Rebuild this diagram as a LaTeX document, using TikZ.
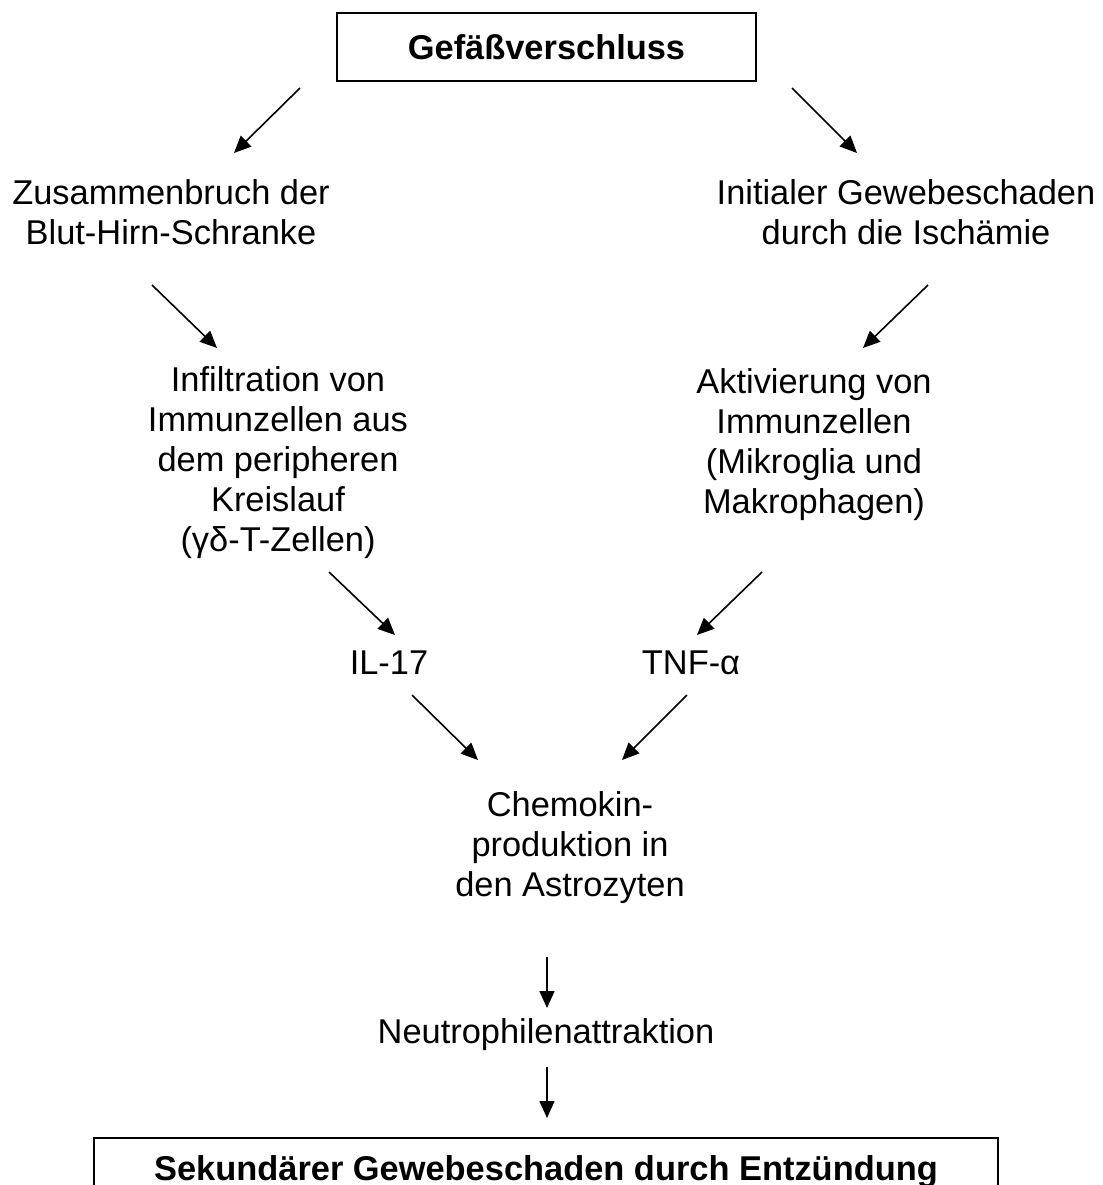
\documentclass[tikz,border=0pt]{standalone}
\usepackage{fontspec}
\setmainfont{Liberation Sans}
\usetikzlibrary{arrows.meta}

\begin{document}
\begin{tikzpicture}[x=0.5pt, y=-0.5pt,
        every node/.style={inner sep=0, align=center, font=\fontsize{17.2}{20}\selectfont},
        box/.style={draw, line width=0.75pt, font=\fontsize{17.2}{20}\selectfont\bfseries},
        arr/.style={-{Triangle[length=8.5pt, width=7.5pt]}, line width=0.8pt}]
        \useasboundingbox (0, 0) rectangle (1103, 1185);

        \node[box, minimum width=209.5pt, minimum height=34pt] (occl) at (546.5, 47) {Gefäßverschluss};
        \node (bbb) at (171, 212) {Zusammenbruch der\\Blut-Hirn-Schranke};
        \node (isch) at (906, 212) {Initialer Gewebeschaden\\durch die Ischämie};
        \node (infl) at (278, 463) {Infiltration von\\Immunzellen aus\\dem peripheren\\Kreislauf\\(γδ-T-Zellen)};
        \node (akt) at (814, 445) {Aktivierung von\\Immunzellen\\(Mikroglia und\\Makrophagen)};
        \node (il) at (389, 663) {IL-17};
        \node (tnf) at (691, 663) {TNF-α};
        \node (chem) at (570, 848) {Chemokin-\\produktion in\\den Astrozyten};
        \node (neut) at (546, 1035) {Neutrophilenattraktion};
        \node[box, minimum width=452pt, minimum height=33.5pt] (sek) at (546, 1171.5) {Sekundärer Gewebeschaden durch Entzündung};

        % arrow ends
        \coordinate (s1) at (300, 88);  \coordinate (e1) at (234, 153);
        \coordinate (s2) at (792, 88);  \coordinate (e2) at (857, 153);
        \coordinate (s3) at (152, 285); \coordinate (e3) at (217, 348);
        \coordinate (s4) at (928, 285); \coordinate (e4) at (863, 348);
        \coordinate (s5) at (329, 572); \coordinate (e5) at (395, 635);
        \coordinate (s6) at (762, 572); \coordinate (e6) at (697, 635);
        \coordinate (s7) at (412, 695); \coordinate (e7) at (478, 760);
        \coordinate (s8) at (687, 695); \coordinate (e8) at (622, 760);
        \coordinate (s9) at (547, 957); \coordinate (e9) at (547, 1008);
        \coordinate (s10) at (547, 1067); \coordinate (e10) at (547, 1118);

        \foreach \i in {1,...,10}
            \draw[arr] (s\i) -- (e\i);
    \end{tikzpicture}
\end{document}
